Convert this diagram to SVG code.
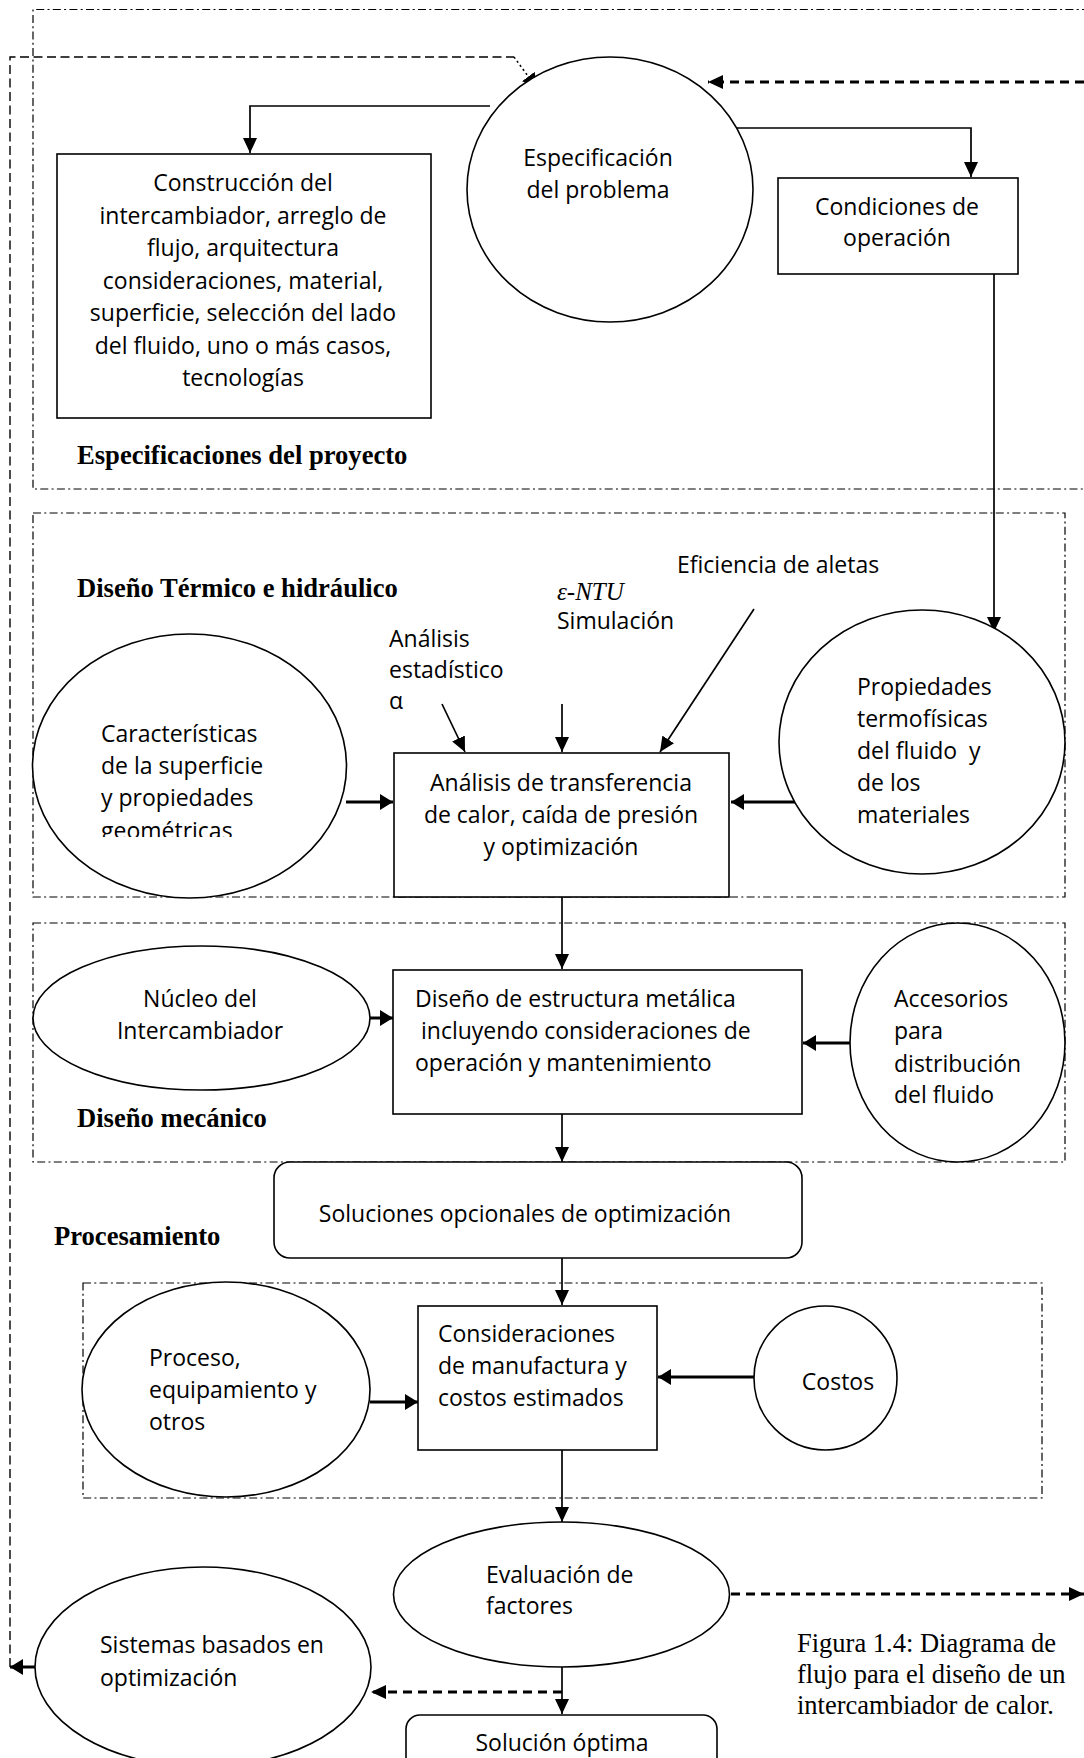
<svg xmlns="http://www.w3.org/2000/svg" width="1084" height="1758" viewBox="0 0 1084 1758">
  <defs>
    <style>
      .t { font-family: "Open Sans", "Noto Sans", sans-serif; font-size: 23px; fill: #000; }
      .c { text-anchor: middle; }
      .lb { font-family: "Liberation Serif", "Times New Roman", serif; font-weight: bold; font-size: 26.6px; fill: #000; }
      .cap { font-family: "Liberation Serif", "Times New Roman", serif; font-size: 26.5px; fill: #000; }
      .it { font-family: "Liberation Serif", "Times New Roman", serif; font-style: italic; font-size: 25px; fill: #000; }
      .shape { fill: #fff; stroke: #000; stroke-width: 1.6; }
      .zone { fill: none; stroke: #000; stroke-width: 1.2; stroke-dasharray: 8 3.3 2 3.3; }
      .ln { fill: none; stroke: #000; stroke-width: 1.7; }
      .thick { fill: none; stroke: #000; stroke-width: 3; }
      .dash { fill: none; stroke: #000; stroke-width: 2.8; stroke-dasharray: 9 6; }
      .fb { fill: none; stroke: #000; stroke-width: 1.4; stroke-dasharray: 9 4.5; }
      .dot { fill: none; stroke: #000; stroke-width: 1.6; stroke-dasharray: 2 3; }
    </style>
    <marker id="ah" markerUnits="userSpaceOnUse" markerWidth="16" markerHeight="14" refX="15" refY="7" orient="auto">
      <path d="M0,0 L15,7 L0,14 z" fill="#000"/>
    </marker>
    <marker id="ahs" markerUnits="userSpaceOnUse" markerWidth="14" markerHeight="16" refX="13" refY="8" orient="auto">
      <path d="M0,0 L13,8 L0,16 z" fill="#000"/>
    </marker>
    <clipPath id="clipGeo">
      <rect x="60" y="700" width="300" height="137"/>
    </clipPath>
  </defs>

  <!-- grouping frames -->
  <g id="zones">
    <path class="zone" d="M1090,9.5 H33 V489 H1090"/>
    <rect class="zone" x="33" y="513" width="1032" height="384"/>
    <rect class="zone" x="33" y="923" width="1032" height="239"/>
    <rect class="zone" x="83" y="1283" width="959" height="215"/>
  </g>

  <!-- section labels -->
  <g id="labels">
    <text class="lb" x="77" y="464">Especificaciones del proyecto</text>
    <text class="lb" x="77" y="597">Diseño Térmico e hidráulico</text>
    <text class="lb" x="77" y="1127">Diseño mecánico</text>
    <text class="lb" x="54" y="1245">Procesamiento</text>
  </g>

  <!-- connectors -->
  <g id="connectors">
    <!-- specification to its two branches -->
    <path class="ln" d="M490,106 H250 V153" marker-end="url(#ah)"/>
    <path class="ln" d="M733,128 H971 V177" marker-end="url(#ah)"/>
    <path class="ln" d="M994,274 V632" marker-end="url(#ah)"/>
    <!-- feedback from the right into the specification -->
    <path class="dash" d="M1084,82 H708" marker-end="url(#ah)"/>
    <!-- thermal analysis inputs -->
    <path class="ln" d="M442,704 L465,752" marker-end="url(#ah)"/>
    <path class="ln" d="M562,704 V752" marker-end="url(#ah)"/>
    <path class="ln" d="M754,609 L660,752" marker-end="url(#ah)"/>
    <path class="thick" d="M346,802 H393" marker-end="url(#ahs)"/>
    <path class="thick" d="M803,802 H731" marker-end="url(#ahs)"/>
    <!-- main vertical chain -->
    <path class="ln" d="M562,897 V969" marker-end="url(#ah)"/>
    <path class="thick" d="M370,1018 H393" marker-end="url(#ahs)"/>
    <path class="thick" d="M850,1043 H803" marker-end="url(#ahs)"/>
    <path class="ln" d="M562,1114 V1162" marker-end="url(#ah)"/>
    <path class="ln" d="M562,1258 V1305" marker-end="url(#ah)"/>
    <path class="thick" d="M370,1402 H418" marker-end="url(#ahs)"/>
    <path class="thick" d="M754,1377 H658" marker-end="url(#ahs)"/>
    <path class="ln" d="M562,1450 V1522" marker-end="url(#ah)"/>
    <path class="dash" d="M731,1594 H1084" marker-end="url(#ah)"/>
    <path class="ln" d="M562,1667 V1714" marker-end="url(#ah)"/>
    <path class="dash" d="M562,1692 H371" marker-end="url(#ah)"/>
    <!-- loop back from optimisation systems to the specification -->
    <path class="thick" d="M35,1667 H10" marker-end="url(#ahs)"/>
    <path class="fb" d="M10,1667 V57 H514"/>
    <path class="dot" d="M514,57 L536,87" marker-end="url(#ahs)"/>
  </g>

  <!-- nodes -->
  <g id="especificacion">
    <ellipse class="shape" cx="610" cy="189.5" rx="143" ry="132.5"/>
    <text class="t c" x="598" y="166">Especificación</text>
    <text class="t c" x="598" y="198">del problema</text>
  </g>

  <g id="construccion">
    <rect class="shape" x="57" y="154" width="374" height="264"/>
    <text class="t c" x="243" y="191">Construcción del</text>
    <text class="t c" x="243" y="224">intercambiador, arreglo de</text>
    <text class="t c" x="243" y="256">flujo, arquitectura</text>
    <text class="t c" x="243" y="289">consideraciones, material,</text>
    <text class="t c" x="243" y="321">superficie, selección del lado</text>
    <text class="t c" x="243" y="354">del fluido, uno o más casos,</text>
    <text class="t c" x="243" y="386">tecnologías</text>
  </g>

  <g id="condiciones">
    <rect class="shape" x="778" y="178" width="240" height="96"/>
    <text class="t c" x="897" y="215">Condiciones de</text>
    <text class="t c" x="897" y="246">operación</text>
  </g>

  <g id="metodos">
    <text class="it" x="557" y="600">ε-NTU</text>
    <text class="t" x="557" y="629">Simulación</text>
    <text class="t" x="677" y="573">Eficiencia de aletas</text>
    <text class="t" x="389" y="647">Análisis</text>
    <text class="t" x="389" y="678">estadístico</text>
    <text class="t" x="389" y="709">α</text>
  </g>

  <g id="caracteristicas">
    <ellipse class="shape" cx="189.5" cy="766" rx="157" ry="132"/>
    <text class="t" x="101" y="742">Características</text>
    <text class="t" x="101" y="774">de la superficie</text>
    <text class="t" x="101" y="806">y propiedades</text>
    <text class="t" x="101" y="839" clip-path="url(#clipGeo)">geométricas</text>
  </g>

  <g id="analisis">
    <rect class="shape" x="394" y="753" width="335" height="144"/>
    <text class="t c" x="561" y="791">Análisis de transferencia</text>
    <text class="t c" x="561" y="823">de calor, caída de presión</text>
    <text class="t c" x="561" y="855">y optimización</text>
  </g>

  <g id="propiedades">
    <ellipse class="shape" cx="922" cy="742" rx="143" ry="132"/>
    <text class="t" x="857" y="695">Propiedades</text>
    <text class="t" x="857" y="727">termofísicas</text>
    <text class="t" x="857" y="759" style="white-space:pre">del fluido  y</text>
    <text class="t" x="857" y="791">de los</text>
    <text class="t" x="857" y="823">materiales</text>
  </g>

  <g id="nucleo">
    <ellipse class="shape" cx="201.5" cy="1018" rx="168.5" ry="72"/>
    <text class="t c" x="200" y="1007">Núcleo del</text>
    <text class="t c" x="200" y="1039">Intercambiador</text>
  </g>

  <g id="estructura">
    <rect class="shape" x="393" y="970" width="409" height="144"/>
    <text class="t" x="415" y="1007">Diseño de estructura metálica</text>
    <text class="t" x="421" y="1039">incluyendo consideraciones de</text>
    <text class="t" x="415" y="1071">operación y mantenimiento</text>
  </g>

  <g id="accesorios">
    <ellipse class="shape" cx="957.5" cy="1042.5" rx="107.5" ry="119.5"/>
    <text class="t" x="894" y="1007">Accesorios</text>
    <text class="t" x="894" y="1039">para</text>
    <text class="t" x="894" y="1072">distribución</text>
    <text class="t" x="894" y="1103">del fluido</text>
  </g>

  <g id="soluciones">
    <rect class="shape" x="274" y="1162" width="528" height="96" rx="16"/>
    <text class="t c" x="525" y="1222">Soluciones opcionales de optimización</text>
  </g>

  <g id="proceso">
    <ellipse class="shape" cx="226" cy="1389.5" rx="144" ry="107.5"/>
    <text class="t" x="149" y="1366">Proceso,</text>
    <text class="t" x="149" y="1398">equipamiento y</text>
    <text class="t" x="149" y="1430">otros</text>
  </g>

  <g id="manufactura">
    <rect class="shape" x="418" y="1306" width="239" height="144"/>
    <text class="t" x="438" y="1342">Consideraciones</text>
    <text class="t" x="438" y="1374">de manufactura y</text>
    <text class="t" x="438" y="1406">costos estimados</text>
  </g>

  <g id="costos">
    <ellipse class="shape" cx="825.5" cy="1378" rx="71.5" ry="72"/>
    <text class="t c" x="838" y="1390">Costos</text>
  </g>

  <g id="evaluacion">
    <ellipse class="shape" cx="561.5" cy="1594.5" rx="168" ry="72.5"/>
    <text class="t" x="486" y="1583">Evaluación de</text>
    <text class="t" x="486" y="1614">factores</text>
  </g>

  <g id="sistemas">
    <ellipse class="shape" cx="203" cy="1667" rx="168" ry="100"/>
    <text class="t" x="100" y="1653">Sistemas basados en</text>
    <text class="t" x="100" y="1686">optimización</text>
  </g>

  <g id="solucion">
    <rect class="shape" x="406" y="1715" width="311" height="80" rx="14"/>
    <text class="t c" x="562" y="1751">Solución óptima</text>
  </g>

  <g id="caption">
    <text class="cap" x="797" y="1652">Figura 1.4: Diagrama de</text>
    <text class="cap" x="797" y="1683">flujo para el diseño de un</text>
    <text class="cap" x="797" y="1714">intercambiador de calor.</text>
  </g>
</svg>
